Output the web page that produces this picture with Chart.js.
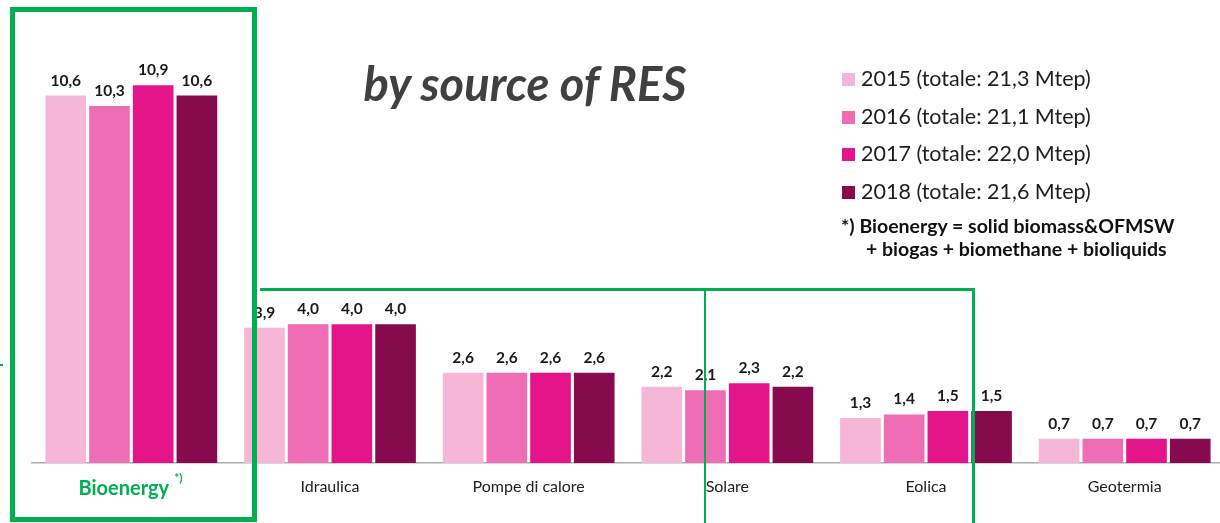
<!DOCTYPE html>
<html>
<head>
<meta charset="utf-8">
<script src="https://cdn.jsdelivr.net/npm/chart.js@4.4.0/dist/chart.umd.min.js"></script>
<style>
body { margin: 0; background: #fff; font-family: Lato, sans-serif; }
#wrap { position: relative; width: 1220px; height: 523px; overflow: hidden; }
#chart { position: absolute; left: 0; top: 0; }
.title { position: absolute; left: 325px; top: 60px; width: 400px; text-align: center; font: italic bold 47px/47px Lato; color: #404040; }
.leg { position: absolute; left: 842px; font: 21.5px/21.5px Lato; color: #1e1e1e; white-space: nowrap; }
.leg span { display: inline-block; width: 13px; height: 13px; margin-right: 6px; vertical-align: 0px; }
.note { position: absolute; font: bold 19.5px/19.5px Lato; color: #111; white-space: nowrap; }
.green { position: absolute; box-sizing: border-box; border: 0 solid #00B050; pointer-events: none; }
</style>
</head>
<body>
<div id="wrap">
  <canvas id="chart" width="1225" height="523"></canvas>
  <div class="title">by source of RES</div>
  <div id="legend"></div>
  <div class="note" style="left:841px;top:216px">*) Bioenergy = solid biomass&amp;OFMSW</div>
  <div class="note" style="left:866px;top:239px">+ biogas + biomethane + bioliquids</div>
  <div class="green" style="left:10px;top:7px;width:247px;height:515px;border-width:5px"></div>
  <div class="green" style="left:260px;top:288px;width:715px;height:240px;border-top-width:3px;border-right-width:3px"></div>
  <div class="green" style="left:704px;top:289px;width:0;height:240px;border-left-width:2.5px"></div>
  <div class="green" style="left:0;top:364px;width:3px;height:0;border-top-width:2px"></div>
</div>
<script>
var categories = ['Bioenergy', 'Idraulica', 'Pompe di calore', 'Solare', 'Eolica', 'Geotermia'];
var years = ['2015', '2016', '2017', '2018'];
var totals = ['21,3', '21,1', '22,0', '21,6'];
var colors = ['#F5B6D8', '#EF6DB5', '#E4148A', '#870A4F'];

var v2015 = [10.6, 3.9, 2.6, 2.2, 1.3, 0.7];
var v2016 = [10.3, 4.0, 2.6, 2.1, 1.4, 0.7];
var v2017 = [10.9, 4.0, 2.6, 2.3, 1.5, 0.7];
var v2018 = [10.6, 4.0, 2.6, 2.2, 1.5, 0.7];
var series = [v2015, v2016, v2017, v2018];

// legend as html
var legend = document.getElementById('legend');
years.forEach(function (y, i) {
    var d = document.createElement('div');
    d.className = 'leg';
    d.style.top = (68 + i * 37.7) + 'px';
    d.innerHTML = '<span style="background:' + colors[i] + '"></span>' + y + ' (totale: ' + totals[i] + ' Mtep)';
    legend.appendChild(d);
});

function fmt(v) {
    return v.toFixed(1).replace('.', ',');
}

var valueLabels = {
    id: 'valueLabels',
    afterDatasetsDraw: function (chart) {
        var ctx = chart.ctx;
        ctx.save();
        ctx.font = 'bold 15.5px Lato';
        ctx.fillStyle = '#1a1a1a';
        ctx.textAlign = 'center';
        ctx.textBaseline = 'alphabetic';
        chart.data.datasets.forEach(function (ds, i) {
            chart.getDatasetMeta(i).data.forEach(function (bar, j) {
                ctx.fillText(fmt(ds.data[j]), bar.x, bar.y - 10);
            });
        });
        // superscript after Bioenergy
        var xs = chart.scales.x;
        var px = xs.getPixelForTick(0);
        ctx.font = 'bold 20px Lato';
        var full = ctx.measureText(categories[0] + '\u2003').width;
        var word = ctx.measureText(categories[0]).width;
        var end = px - full / 2 + word;
        ctx.font = 'bold 12px Lato';
        ctx.fillStyle = '#00B050';
        ctx.textAlign = 'left';
        ctx.textBaseline = 'top';
        ctx.fillText('*)', end + 5, chart.chartArea.bottom + 9);
        ctx.restore();
    }
};

var chart = new Chart(document.getElementById('chart').getContext('2d'), {
    type: 'bar',
    data: {
        labels: categories,
        datasets: series.map(function (s, i) {
            return {
                label: years[i],
                data: s,
                backgroundColor: colors[i],
                borderWidth: 0
            };
        })
    },
    options: {
        responsive: false,
        animation: false,
        layout: { padding: { left: 32, right: 1, top: 47, bottom: 8 } },
        datasets: { bar: { categoryPercentage: 0.88, barPercentage: 0.93 } },
        plugins: { legend: { display: false }, tooltip: { enabled: false } },
        scales: {
            x: {
                grid: { display: false, drawTicks: false },
                border: { display: true, color: '#ABABAB', width: 1.5 },
                ticks: {
                    padding: 14,
                    autoSkip: false,
                    maxRotation: 0,
                    callback: function (v, i) { return i === 0 ? categories[0] + '\u2003' : categories[i]; },
                    color: function (c) { return c.index === 0 ? '#00B050' : '#222'; },
                    font: function (c) { return c.index === 0 ? { family: 'Lato', size: 20, weight: 'bold' } : { family: 'Lato', size: 16 }; }
                }
            },
            y: { display: false, min: 0, max: 12 }
        }
    },
    plugins: [valueLabels]
});
</script>
</body>
</html>
